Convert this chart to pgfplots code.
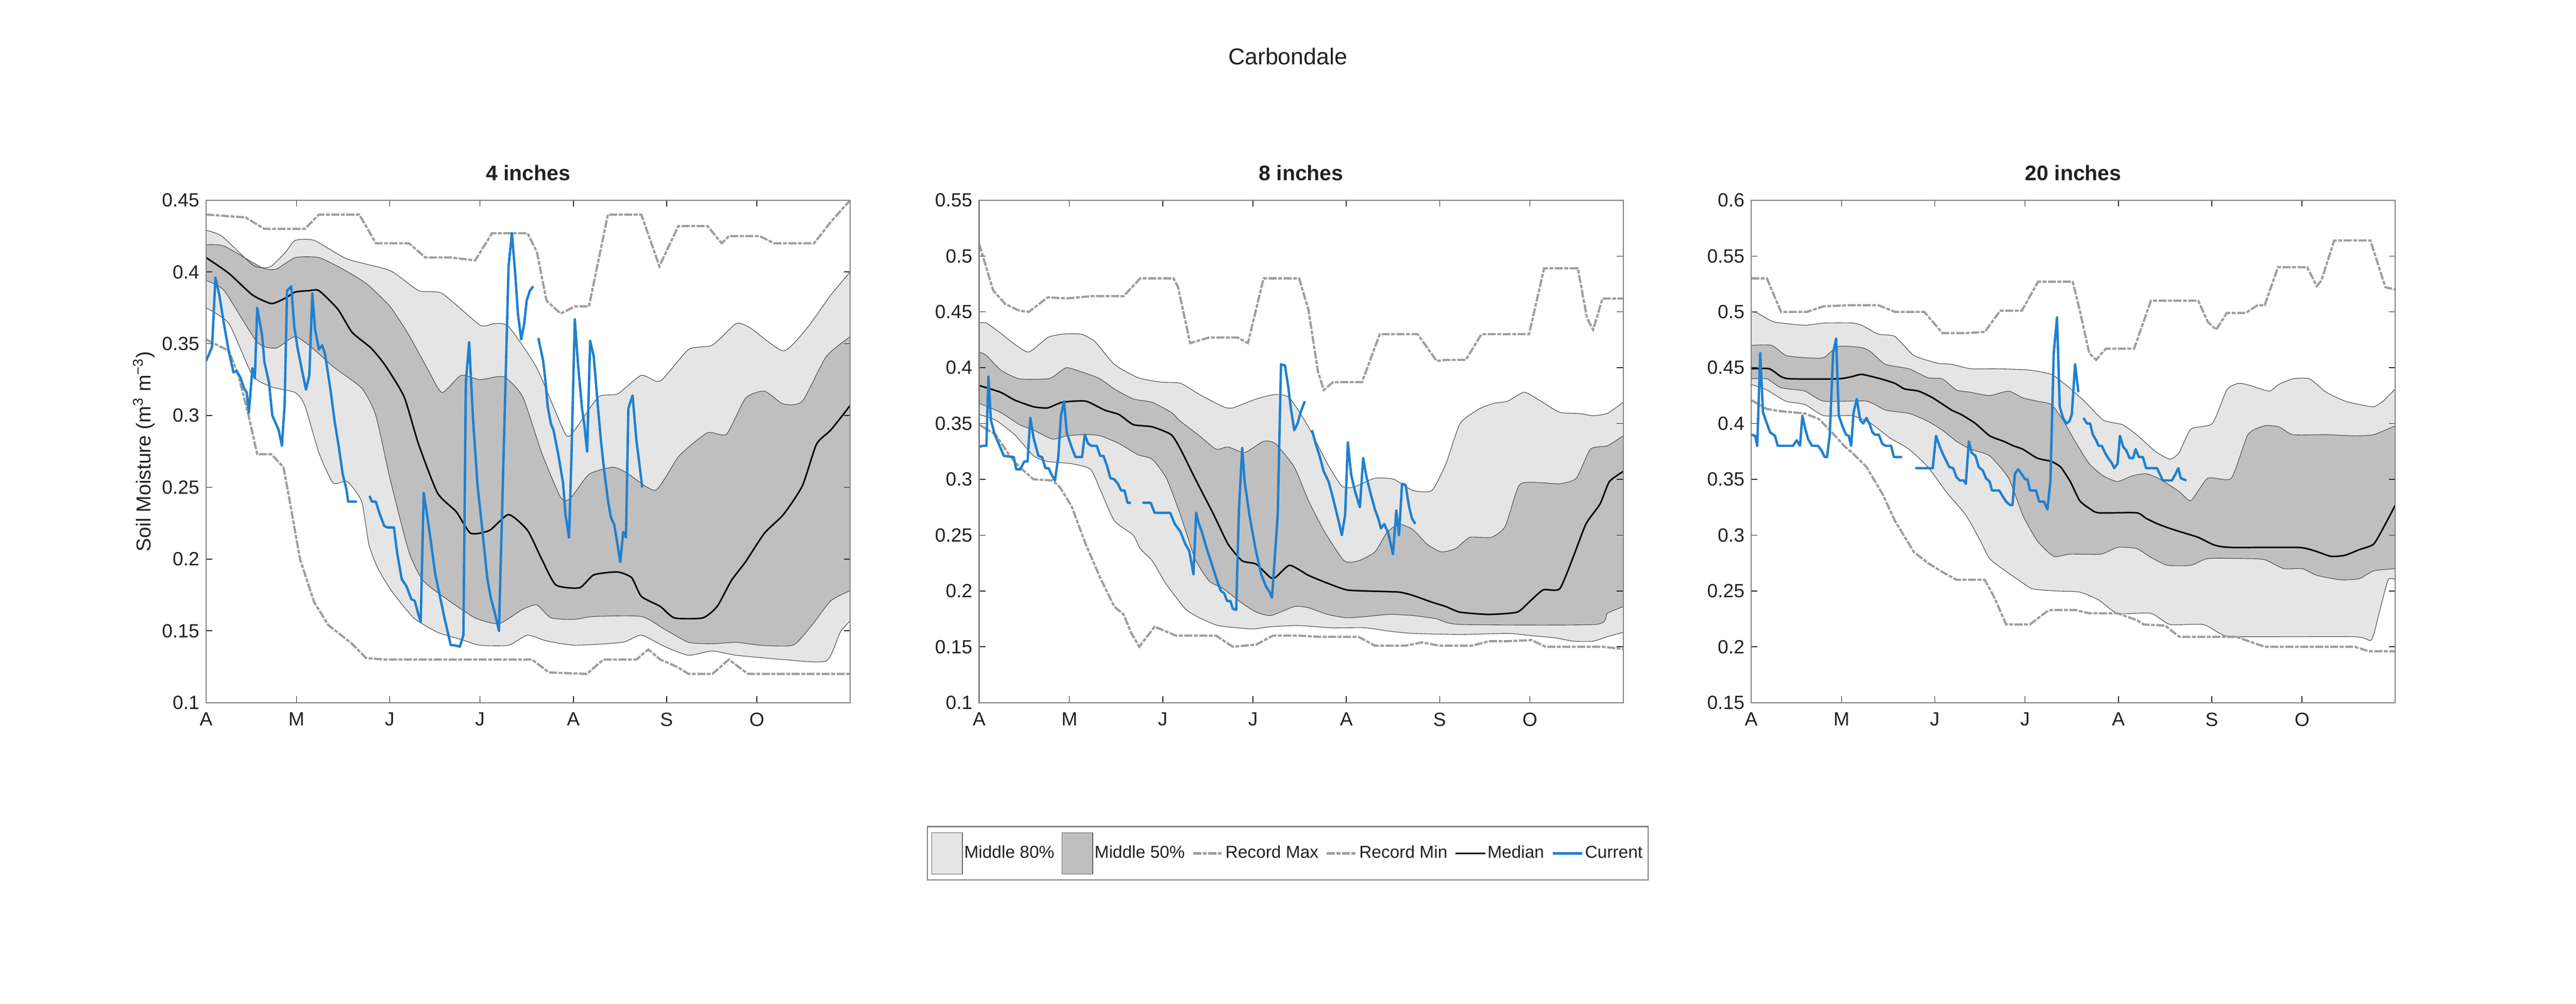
\documentclass[border=0pt]{standalone}
\usepackage{fontspec}
\setmainfont{Liberation Sans}
\usepackage{pgfplots}
\usepackage{pgfplotstable}
\pgfplotsset{compat=1.18}
\definecolor{band80}{gray}{0.9}
\definecolor{band50}{gray}{0.75}
\definecolor{recgray}{gray}{0.62}
\definecolor{curblue}{RGB}{31,128,208}
\definecolor{axgray}{gray}{0.5}
\pgfplotsset{
  panel/.style={
    width=336pt, height=262.25pt, scale only axis, anchor=south west,
    xmin=0, xmax=214, xtick={0,30,61,91,122,153,183},
    xticklabels={A,M,J,J,A,S,O},
    tick align=inside, major tick length=3.3pt,
    tick style={color=black!85, line width=0.4pt},
    axis line style={draw=axgray, line width=0.6pt},
    ticklabel style={font=\fontsize{10}{12}\selectfont, color=black!87},
    xticklabel style={yshift=-1.7pt},
    /pgf/number format/assume math mode=true,
    yticklabel style={/pgf/number format/fixed, /pgf/number format/precision=2},
    title style={at={(0.5,1)}, anchor=base, yshift=4.25pt, font=\bfseries\fontsize{11}{13}\selectfont, color=black!87},
    axis on top,
  },
  fillln/.style={draw=none, smooth, tension=0.35, forget plot},
  edgeln/.style={line width=0.3pt, color=black!72, smooth, tension=0.35, forget plot},
  recln/.style={line width=1.15pt, color=recgray, dash pattern=on 4.2pt off 0.8pt on 2pt off 0.8pt, forget plot},
  medln/.style={line width=0.8pt, color=black, smooth, tension=0.35, forget plot},
  curln/.style={line width=1.25pt, color=curblue, line join=round, forget plot},
}
% ---------- 4 inches ----------
\pgfplotstableread[row sep=\\]{x y\\ 0 0.429\\ 5.2 0.425\\ 15.4 0.405\\ 18.6 0.403\\ 21.7 0.404\\ 26.5 0.414\\ 29.6 0.422\\ 35.9 0.422\\ 46.9 0.409\\ 61.1 0.401\\ 70.6 0.387\\ 78.4 0.385\\ 91.0 0.363\\ 95.7 0.364\\ 100.5 0.362\\ 109.9 0.333\\ 119.4 0.287\\ 122.5 0.29\\ 130.4 0.313\\ 136.7 0.315\\ 144.6 0.328\\ 150.9 0.324\\ 160.3 0.346\\ 168.2 0.349\\ 176.1 0.364\\ 180.8 0.361\\ 191.8 0.345\\ 199.7 0.361\\ 207.6 0.384\\ 214 0.4\\}\AuE
\pgfplotstableread[row sep=\\]{x y\\ 0 0.375\\ 7.6 0.364\\ 15.4 0.328\\ 21.7 0.32\\ 29.6 0.316\\ 32.8 0.307\\ 37.5 0.274\\ 42.2 0.253\\ 46.9 0.254\\ 51.7 0.24\\ 54.1 0.21\\ 57.2 0.193\\ 61.9 0.177\\ 69.0 0.159\\ 76.9 0.149\\ 84.7 0.144\\ 91.0 0.14\\ 100.5 0.14\\ 106.8 0.147\\ 113.1 0.143\\ 122.5 0.14\\ 138.3 0.142\\ 144.6 0.147\\ 152.4 0.139\\ 160.3 0.133\\ 168.2 0.136\\ 176.1 0.133\\ 191.8 0.13\\ 206.0 0.129\\ 210.7 0.149\\ 214 0.157\\}\AlE
\pgfplotstableread[row sep=\\]{x y\\ 0 0.419\\ 6.0 0.418\\ 18.6 0.403\\ 23.3 0.402\\ 29.6 0.41\\ 37.5 0.41\\ 45.4 0.402\\ 53.2 0.392\\ 61.1 0.376\\ 67.4 0.356\\ 73.7 0.332\\ 78.4 0.316\\ 84.7 0.328\\ 91.0 0.325\\ 98.9 0.327\\ 105.2 0.313\\ 111.5 0.274\\ 117.8 0.243\\ 120.9 0.242\\ 127.2 0.259\\ 135.1 0.264\\ 139.8 0.26\\ 149.3 0.248\\ 157.2 0.272\\ 166.6 0.288\\ 172.9 0.287\\ 179.2 0.312\\ 185.5 0.317\\ 191.8 0.308\\ 198.1 0.31\\ 206.0 0.341\\ 214 0.355\\}\AuF
\pgfplotstableread[row sep=\\]{x y\\ 0 0.394\\ 6.0 0.387\\ 17.0 0.351\\ 23.3 0.347\\ 29.6 0.355\\ 35.9 0.346\\ 42.2 0.334\\ 51.7 0.319\\ 56.4 0.3\\ 61.1 0.256\\ 67.4 0.205\\ 72.1 0.185\\ 80.0 0.172\\ 89.4 0.159\\ 97.3 0.155\\ 105.2 0.165\\ 109.9 0.168\\ 114.6 0.159\\ 122.5 0.158\\ 128.8 0.16\\ 144.6 0.16\\ 152.4 0.151\\ 160.3 0.142\\ 168.2 0.141\\ 176.1 0.142\\ 183.9 0.14\\ 195.0 0.14\\ 201.3 0.154\\ 207.6 0.171\\ 214 0.178\\}\AlF
\pgfplotstableread[row sep=\\]{x y\\ 0 0.44\\ 13.1 0.438\\ 19.4 0.43\\ 32.8 0.43\\ 37.5 0.44\\ 50.9 0.44\\ 56.4 0.42\\ 67.4 0.42\\ 72.9 0.41\\ 81.6 0.41\\ 89.4 0.408\\ 95.0 0.427\\ 106.8 0.427\\ 109.9 0.414\\ 113.1 0.38\\ 117.8 0.371\\ 122.5 0.376\\ 127.2 0.376\\ 133.5 0.44\\ 144.6 0.44\\ 150.6 0.404\\ 156.9 0.432\\ 166.6 0.432\\ 171.3 0.42\\ 173.7 0.425\\ 183.9 0.425\\ 188.7 0.42\\ 202.0 0.42\\ 207.6 0.435\\ 214 0.45\\}\Amax
\pgfplotstableread[row sep=\\]{x y\\ 0 0.353\\ 7.6 0.345\\ 10.7 0.328\\ 13.9 0.302\\ 17.0 0.273\\ 21.7 0.273\\ 25.7 0.264\\ 28.0 0.238\\ 31.2 0.2\\ 35.9 0.17\\ 40.6 0.154\\ 48.5 0.141\\ 53.2 0.131\\ 59.5 0.13\\ 108.3 0.13\\ 113.9 0.121\\ 126.5 0.12\\ 132.0 0.13\\ 143.0 0.13\\ 146.9 0.137\\ 150.9 0.13\\ 156.4 0.125\\ 160.3 0.12\\ 168.2 0.12\\ 173.7 0.13\\ 180.0 0.12\\ 214 0.12\\}\Amin
\pgfplotstableread[row sep=\\]{x y\\ 0 0.41\\ 7.6 0.399\\ 15.4 0.384\\ 21.7 0.378\\ 26.5 0.382\\ 29.6 0.386\\ 34.3 0.387\\ 37.5 0.387\\ 43.8 0.374\\ 48.5 0.358\\ 54.8 0.347\\ 59.5 0.335\\ 65.8 0.313\\ 70.6 0.28\\ 76.9 0.246\\ 83.1 0.233\\ 87.9 0.218\\ 94.2 0.22\\ 100.5 0.231\\ 106.8 0.22\\ 111.5 0.2\\ 116.2 0.182\\ 124.1 0.18\\ 128.8 0.189\\ 136.7 0.191\\ 141.4 0.187\\ 144.6 0.174\\ 150.9 0.167\\ 155.6 0.159\\ 165.0 0.159\\ 169.8 0.167\\ 174.5 0.185\\ 179.2 0.198\\ 185.5 0.218\\ 191.8 0.231\\ 198.1 0.251\\ 202.8 0.28\\ 207.6 0.29\\ 214 0.307\\}\Amed
% ---------- 8 inches ----------
\pgfplotstableread[row sep=\\]{x y\\ 0 0.44\\ 2.4 0.44\\ 7.1 0.431\\ 11.8 0.421\\ 16.5 0.414\\ 22.8 0.427\\ 27.6 0.43\\ 33.9 0.43\\ 38.6 0.423\\ 44.9 0.403\\ 52.8 0.391\\ 60.6 0.387\\ 66.9 0.386\\ 73.2 0.376\\ 81.1 0.365\\ 84.3 0.364\\ 92.1 0.372\\ 98.4 0.376\\ 103.1 0.373\\ 109.4 0.347\\ 115.7 0.314\\ 120.5 0.294\\ 124.4 0.293\\ 131.5 0.301\\ 137.8 0.3\\ 144.1 0.29\\ 150.4 0.29\\ 155.1 0.314\\ 159.8 0.35\\ 166.1 0.363\\ 170.9 0.368\\ 175.6 0.37\\ 181.1 0.378\\ 186.6 0.37\\ 192.9 0.36\\ 199.2 0.359\\ 203.9 0.357\\ 208.7 0.359\\ 214 0.369\\}\BuE
\pgfplotstableread[row sep=\\]{x y\\ 0 0.358\\ 5.5 0.353\\ 11.8 0.34\\ 18.1 0.321\\ 22.8 0.316\\ 30.7 0.314\\ 37.0 0.309\\ 40.2 0.291\\ 44.9 0.263\\ 51.2 0.25\\ 53.5 0.238\\ 57.5 0.227\\ 62.2 0.206\\ 68.5 0.184\\ 73.2 0.176\\ 79.5 0.169\\ 90.6 0.166\\ 96.9 0.168\\ 106.3 0.169\\ 117.3 0.167\\ 128.3 0.167\\ 136.2 0.164\\ 144.1 0.162\\ 159.8 0.161\\ 175.6 0.162\\ 183.5 0.16\\ 191.3 0.158\\ 197.6 0.155\\ 203.9 0.155\\ 208.7 0.159\\ 214 0.163\\}\BlE
\pgfplotstableread[row sep=\\]{x y\\ 0 0.414\\ 2.4 0.411\\ 7.1 0.398\\ 13.4 0.39\\ 22.8 0.39\\ 25.2 0.393\\ 29.1 0.4\\ 35.4 0.395\\ 40.2 0.39\\ 44.9 0.381\\ 51.2 0.372\\ 57.5 0.369\\ 63.8 0.36\\ 66.9 0.352\\ 73.2 0.339\\ 78.7 0.327\\ 82.7 0.329\\ 88.2 0.324\\ 94.5 0.334\\ 98.4 0.332\\ 104.7 0.311\\ 109.4 0.281\\ 115.0 0.252\\ 121.3 0.227\\ 126.0 0.227\\ 131.5 0.235\\ 135.4 0.252\\ 139.4 0.26\\ 144.1 0.255\\ 148.8 0.242\\ 153.5 0.235\\ 158.3 0.238\\ 163.0 0.248\\ 170.1 0.248\\ 174.8 0.258\\ 179.5 0.295\\ 186.6 0.297\\ 192.9 0.296\\ 198.4 0.301\\ 203.1 0.327\\ 208.7 0.33\\ 214 0.339\\}\BuF
\pgfplotstableread[row sep=\\]{x y\\ 0 0.368\\ 7.1 0.36\\ 13.4 0.349\\ 18.1 0.344\\ 24.4 0.336\\ 29.1 0.339\\ 35.4 0.34\\ 40.2 0.339\\ 46.5 0.332\\ 52.8 0.322\\ 57.5 0.318\\ 62.2 0.301\\ 66.9 0.268\\ 71.7 0.229\\ 76.4 0.209\\ 81.1 0.202\\ 87.4 0.189\\ 92.1 0.181\\ 96.9 0.178\\ 104.7 0.186\\ 109.4 0.185\\ 115.7 0.179\\ 122.0 0.176\\ 128.3 0.177\\ 136.2 0.179\\ 144.1 0.178\\ 152.0 0.175\\ 159.8 0.17\\ 204.7 0.17\\ 208.7 0.18\\ 214 0.186\\}\BlF
\pgfplotstableread[row sep=\\]{x y\\ 0 0.511\\ 4.7 0.469\\ 8.7 0.457\\ 13.4 0.451\\ 16.5 0.45\\ 22.8 0.463\\ 29.1 0.462\\ 37.0 0.464\\ 48.0 0.464\\ 53.5 0.48\\ 64.6 0.48\\ 66.1 0.472\\ 70.1 0.422\\ 76.4 0.427\\ 85.8 0.427\\ 89.3 0.422\\ 94.5 0.48\\ 106.3 0.48\\ 109.4 0.452\\ 112.6 0.396\\ 114.5 0.38\\ 117.6 0.387\\ 127.2 0.387\\ 133.1 0.43\\ 145.7 0.43\\ 152.0 0.406\\ 155.1 0.407\\ 161.7 0.407\\ 166.9 0.43\\ 182.7 0.43\\ 187.7 0.489\\ 198.9 0.489\\ 202.0 0.444\\ 204.0 0.434\\ 207.1 0.462\\ 214 0.462\\}\Bmax
\pgfplotstableread[row sep=\\]{x y\\ 0 0.349\\ 5.5 0.34\\ 10.2 0.321\\ 13.4 0.311\\ 18.1 0.3\\ 24.4 0.299\\ 26.8 0.293\\ 30.7 0.276\\ 35.4 0.242\\ 40.2 0.212\\ 44.9 0.186\\ 48.0 0.179\\ 50.4 0.163\\ 53.2 0.15\\ 58.3 0.168\\ 65.4 0.16\\ 78.7 0.16\\ 84.3 0.15\\ 92.1 0.152\\ 97.6 0.16\\ 106.3 0.16\\ 112.6 0.159\\ 126.0 0.159\\ 131.5 0.151\\ 141.7 0.151\\ 147.2 0.154\\ 152.8 0.151\\ 163.8 0.151\\ 169.3 0.155\\ 175.6 0.155\\ 183.5 0.156\\ 188.2 0.15\\ 207.1 0.15\\ 214 0.148\\}\Bmin
\pgfplotstableread[row sep=\\]{x y\\ 0 0.384\\ 7.1 0.378\\ 11.8 0.371\\ 18.1 0.365\\ 22.8 0.364\\ 27.6 0.369\\ 35.4 0.37\\ 41.7 0.362\\ 46.5 0.358\\ 51.2 0.349\\ 57.5 0.347\\ 63.8 0.34\\ 66.9 0.327\\ 71.7 0.301\\ 78.0 0.268\\ 82.7 0.242\\ 87.4 0.227\\ 92.1 0.224\\ 97.6 0.211\\ 103.1 0.223\\ 109.4 0.214\\ 115.7 0.207\\ 122.0 0.201\\ 128.3 0.2\\ 139.4 0.199\\ 144.1 0.196\\ 150.4 0.19\\ 155.1 0.186\\ 159.8 0.181\\ 169.3 0.179\\ 178.7 0.181\\ 182.7 0.19\\ 187.4 0.201\\ 192.9 0.202\\ 197.6 0.232\\ 201.6 0.26\\ 206.3 0.278\\ 209.4 0.298\\ 214 0.307\\}\Bmed
% ---------- 20 inches ----------
\pgfplotstableread[row sep=\\]{x y\\ 0 0.5\\ 2.0 0.499\\ 7.6 0.491\\ 17.8 0.488\\ 24.1 0.49\\ 33.5 0.49\\ 36.7 0.488\\ 42.2 0.48\\ 47.7 0.478\\ 54.0 0.461\\ 61.9 0.454\\ 66.6 0.453\\ 72.9 0.449\\ 80.8 0.449\\ 91.8 0.448\\ 99.7 0.444\\ 105.2 0.433\\ 110.7 0.42\\ 117.0 0.403\\ 123.3 0.399\\ 128.0 0.39\\ 134.3 0.375\\ 139.1 0.368\\ 142.2 0.374\\ 146.1 0.395\\ 153.2 0.4\\ 158.0 0.43\\ 161.9 0.436\\ 165.8 0.434\\ 172.1 0.429\\ 175.3 0.435\\ 180.0 0.44\\ 185.5 0.44\\ 191.0 0.428\\ 197.3 0.42\\ 202.0 0.417\\ 206.8 0.415\\ 209.9 0.42\\ 214 0.431\\}\CuE
\pgfplotstableread[row sep=\\]{x y\\ 0 0.435\\ 5.2 0.43\\ 11.5 0.42\\ 17.8 0.417\\ 24.1 0.407\\ 33.5 0.407\\ 39.8 0.4\\ 46.1 0.387\\ 52.4 0.377\\ 58.7 0.361\\ 65.0 0.338\\ 71.3 0.318\\ 76.1 0.295\\ 79.2 0.279\\ 83.9 0.269\\ 88.7 0.26\\ 93.4 0.252\\ 101.3 0.25\\ 109.1 0.249\\ 115.4 0.242\\ 121.7 0.23\\ 132.8 0.23\\ 139.1 0.22\\ 150.1 0.22\\ 156.4 0.211\\ 161.1 0.209\\ 200.5 0.209\\ 206.0 0.206\\ 208.5 0.229\\ 211.6 0.26\\ 214 0.26\\}\ClE
\pgfplotstableread[row sep=\\]{x y\\ 0 0.47\\ 6.8 0.47\\ 11.5 0.461\\ 17.8 0.459\\ 24.1 0.459\\ 28.8 0.469\\ 36.7 0.468\\ 39.8 0.464\\ 44.6 0.453\\ 52.4 0.449\\ 58.7 0.441\\ 63.5 0.44\\ 68.2 0.43\\ 72.9 0.428\\ 79.2 0.425\\ 85.5 0.429\\ 90.2 0.423\\ 95.0 0.42\\ 99.7 0.417\\ 103.6 0.403\\ 107.6 0.384\\ 112.3 0.364\\ 117.0 0.353\\ 121.7 0.348\\ 126.5 0.353\\ 131.2 0.355\\ 135.9 0.35\\ 142.2 0.339\\ 146.1 0.331\\ 151.7 0.351\\ 159.5 0.351\\ 165.0 0.39\\ 170.6 0.398\\ 175.3 0.397\\ 180.0 0.39\\ 191.0 0.39\\ 200.5 0.389\\ 206.8 0.39\\ 214 0.398\\}\CuF
\pgfplotstableread[row sep=\\]{x y\\ 0 0.44\\ 5.2 0.44\\ 9.9 0.432\\ 17.8 0.429\\ 24.1 0.42\\ 38.3 0.42\\ 44.6 0.412\\ 52.4 0.409\\ 58.7 0.402\\ 63.5 0.394\\ 68.2 0.384\\ 72.9 0.377\\ 79.2 0.371\\ 85.5 0.351\\ 90.2 0.318\\ 95.0 0.295\\ 100.5 0.281\\ 106.0 0.283\\ 116.2 0.283\\ 121.7 0.289\\ 128.0 0.288\\ 132.8 0.28\\ 138.3 0.273\\ 146.1 0.273\\ 151.7 0.279\\ 164.3 0.279\\ 170.6 0.278\\ 176.9 0.27\\ 183.1 0.27\\ 187.9 0.264\\ 195.7 0.26\\ 202.0 0.261\\ 206.8 0.268\\ 214 0.27\\}\ClF
\pgfplotstableread[row sep=\\]{x y\\ 0 0.53\\ 5.2 0.53\\ 9.9 0.5\\ 18.6 0.5\\ 24.1 0.505\\ 33.5 0.506\\ 42.2 0.506\\ 47.7 0.5\\ 57.5 0.5\\ 63.5 0.481\\ 71.3 0.481\\ 77.6 0.482\\ 82.7 0.501\\ 89.9 0.501\\ 95.3 0.527\\ 106.8 0.527\\ 109.1 0.502\\ 112.3 0.463\\ 114.6 0.457\\ 117.8 0.467\\ 127.2 0.467\\ 132.8 0.51\\ 148.5 0.51\\ 151.7 0.491\\ 154.5 0.484\\ 158.0 0.499\\ 164.3 0.499\\ 168.2 0.506\\ 170.6 0.506\\ 175.0 0.54\\ 184.7 0.54\\ 187.9 0.523\\ 189.4 0.528\\ 193.7 0.564\\ 205.7 0.564\\ 210.7 0.522\\ 214 0.52\\}\Cmax
\pgfplotstableread[row sep=\\]{x y\\ 0 0.421\\ 5.2 0.413\\ 9.9 0.411\\ 17.8 0.409\\ 22.5 0.404\\ 27.2 0.391\\ 31.2 0.379\\ 33.5 0.374\\ 38.3 0.361\\ 43.8 0.336\\ 47.7 0.313\\ 54.0 0.285\\ 58.7 0.275\\ 63.5 0.267\\ 68.2 0.26\\ 77.6 0.26\\ 80.8 0.244\\ 84.7 0.22\\ 92.6 0.22\\ 98.9 0.233\\ 107.6 0.233\\ 112.3 0.23\\ 121.7 0.23\\ 128.0 0.224\\ 130.4 0.22\\ 137.5 0.219\\ 142.2 0.209\\ 161.1 0.209\\ 170.6 0.2\\ 200.5 0.2\\ 205.2 0.196\\ 214 0.196\\}\Cmin
\pgfplotstableread[row sep=\\]{x y\\ 0 0.449\\ 6.0 0.449\\ 9.9 0.442\\ 13.1 0.44\\ 28.8 0.44\\ 33.5 0.442\\ 36.7 0.444\\ 43.0 0.44\\ 47.7 0.436\\ 50.9 0.431\\ 55.6 0.429\\ 60.3 0.423\\ 66.6 0.412\\ 69.8 0.408\\ 74.5 0.4\\ 79.2 0.389\\ 83.9 0.384\\ 87.1 0.38\\ 90.2 0.377\\ 95.0 0.369\\ 99.7 0.366\\ 102.8 0.361\\ 106.0 0.348\\ 109.1 0.331\\ 112.3 0.324\\ 115.4 0.32\\ 128.0 0.32\\ 131.2 0.315\\ 135.1 0.31\\ 139.1 0.306\\ 143.8 0.302\\ 148.5 0.298\\ 154.0 0.291\\ 159.5 0.289\\ 181.6 0.289\\ 187.1 0.286\\ 192.6 0.281\\ 197.3 0.282\\ 202.0 0.287\\ 206.8 0.292\\ 210.7 0.31\\ 214 0.327\\}\Cmed
\begin{document}
\begin{tikzpicture}
\path[use as bounding box] (0pt,0pt) rectangle (1343.75pt,524pt);
\node[font=\fontsize{12}{14}\selectfont, color=black!87, anchor=base] at (671.75pt,490.25pt) {Carbondale};

% ---------------- 4 inches ----------------
\begin{axis}[panel, at={(107.5pt,157.25pt)}, ymin=0.1, ymax=0.45,
  ytick={0.1,0.15,...,0.451}, title={4 inches},
  ylabel={Soil Moisture (m\textsuperscript{3} m\textsuperscript{\char"2212 3})},
  ylabel style={at={(axis description cs:-0.0967,0.5)}, anchor=center, font=\fontsize{10.5}{12}\selectfont, color=black!87}]
\addplot[fillln, fill=band80] table {\AuE} \closedcycle;
\addplot[fillln, fill=band50] table {\AuF} \closedcycle;
\addplot[fillln, fill=band80] table {\AlF} \closedcycle;
\addplot[fillln, fill=white] table {\AlE} \closedcycle;
\addplot[edgeln] table {\AuE};
\addplot[edgeln] table {\AuF};
\addplot[edgeln] table {\AlF};
\addplot[edgeln] table {\AlE};
\addplot[recln] table {\Amax};
\addplot[recln] table {\Amin};
\addplot[medln] table {\Amed};
\addplot[curln] coordinates {(0,0.338) (2.0,0.348) (3.1,0.396) (4.4,0.384) (6.0,0.363) (7.6,0.344) (9.1,0.33) (10.2,0.331) (11.5,0.326) (12.6,0.319) (13.5,0.316) (14.2,0.302) (15.4,0.333) (16.2,0.326) (17.0,0.375) (18.6,0.356) (19.4,0.337) (20.9,0.323) (22.0,0.3) (24.1,0.29) (25.2,0.279) (26.1,0.308) (26.9,0.387) (28.3,0.39) (29.3,0.362) (30.4,0.347) (32.0,0.33) (33.2,0.318) (34.3,0.328) (35.3,0.385) (36.2,0.36) (37.5,0.346) (38.6,0.349) (39.5,0.343) (41.4,0.317) (42.7,0.296) (44.1,0.278) (45.4,0.259) (46.6,0.249) (47.2,0.24) (50.1,0.24)};
\addplot[curln] coordinates {(54.3,0.244) (55.1,0.24) (56.4,0.24) (57.6,0.232) (59.2,0.223) (60.3,0.222) (62.4,0.222) (63.5,0.204) (65.0,0.186) (66.6,0.181) (68.2,0.172) (69.3,0.171) (70.2,0.164) (71.3,0.156) (72.3,0.246) (73.4,0.231) (74.5,0.215) (76.1,0.19) (77.6,0.175) (79.2,0.159) (80.3,0.149) (81.3,0.14) (82.4,0.14) (84.3,0.139) (85.5,0.147) (86.3,0.323) (87.4,0.351) (88.7,0.297) (90.2,0.251) (91.8,0.22) (93.4,0.187) (94.6,0.173) (96.1,0.161) (97.3,0.15) (100.5,0.404) (101.6,0.427) (102.7,0.399) (103.6,0.371) (104.7,0.353) (105.7,0.364) (106.5,0.38) (107.6,0.387) (108.7,0.39)};
\addplot[curln] coordinates {(110.4,0.354) (112.0,0.338) (112.8,0.323) (113.5,0.306) (114.6,0.294) (115.4,0.29) (117.0,0.273) (118.6,0.253) (119.4,0.231) (120.6,0.215) (121.4,0.272) (122.5,0.367) (123.6,0.335) (124.9,0.305) (125.7,0.293) (126.6,0.275) (127.6,0.352) (128.8,0.341) (130.1,0.308) (131.2,0.282) (132.3,0.261) (133.5,0.241) (134.5,0.229) (135.6,0.224) (136.7,0.21) (137.6,0.198) (138.6,0.219) (139.5,0.215) (140.3,0.305) (141.7,0.314) (143.0,0.282) (144.1,0.264) (144.9,0.25)};
\end{axis}

% ---------------- 8 inches ----------------
\begin{axis}[panel, at={(510.75pt,157.25pt)}, ymin=0.1, ymax=0.55,
  ytick={0.1,0.15,...,0.551}, title={8 inches},
  legend columns=6,
  legend style={at={(0.479,-0.30)}, anchor=center, draw=axgray, line width=0.6pt,
    font=\fontsize{9}{11}\selectfont, text=black!87,
    inner xsep=2pt, inner ysep=3pt,
    nodes={inner sep=0.8pt},
    /tikz/every even column/.append style={column sep=3pt}}]
\addplot[fillln, fill=band80] table {\BuE} \closedcycle;
\addplot[fillln, fill=band50] table {\BuF} \closedcycle;
\addplot[fillln, fill=band80] table {\BlF} \closedcycle;
\addplot[fillln, fill=white] table {\BlE} \closedcycle;
\addplot[edgeln] table {\BuE};
\addplot[edgeln] table {\BuF};
\addplot[edgeln] table {\BlF};
\addplot[edgeln] table {\BlE};
\addplot[recln] table {\Bmax};
\addplot[recln] table {\Bmin};
\addplot[medln] table {\Bmed};
\addplot[curln] coordinates {(0,0.329) (1.1,0.33) (2.4,0.33) (3.1,0.392) (3.9,0.353) (5.2,0.34) (6.8,0.33) (8.2,0.321) (11.5,0.32) (12.3,0.309) (13.7,0.309) (15.0,0.316) (16.1,0.316) (17.0,0.355) (18.1,0.337) (19.7,0.321) (20.9,0.32) (22.0,0.31) (23.1,0.31) (24.1,0.304) (25.2,0.299) (26.3,0.32) (27.2,0.357) (28.2,0.37) (29.1,0.342) (30.7,0.329) (32.0,0.32) (34.2,0.32) (35.1,0.34) (36.2,0.332) (37.3,0.33) (39.1,0.33) (40.2,0.321) (41.3,0.321) (42.5,0.312) (43.6,0.301) (44.9,0.3) (46.1,0.296) (47.2,0.29) (48.3,0.29) (49.3,0.279) (50.4,0.279)};
\addplot[curln] coordinates {(54.3,0.279) (57.0,0.279) (58.3,0.27) (63.5,0.27) (65.0,0.26) (66.9,0.253) (68.5,0.242) (69.8,0.236) (71.2,0.215) (72.1,0.27) (72.9,0.261) (74.0,0.253) (75.6,0.238) (77.2,0.225) (78.7,0.212) (80.3,0.2) (81.4,0.198) (82.4,0.191) (83.5,0.191) (84.3,0.184) (85.4,0.183) (86.3,0.271) (87.4,0.328) (88.2,0.298) (89.8,0.268) (91.8,0.238) (93.7,0.215) (95.3,0.204) (96.5,0.199) (97.3,0.194) (99.2,0.268) (100.3,0.403) (101.6,0.402) (102.7,0.383) (103.6,0.363) (104.7,0.344) (105.8,0.35) (106.8,0.36) (108.2,0.37)};
\addplot[curln] coordinates {(110.6,0.344) (111.8,0.332) (113.1,0.321) (114.5,0.307) (116.1,0.298) (117.3,0.286) (118.4,0.274) (119.4,0.263) (120.5,0.25) (121.6,0.268) (122.5,0.333) (123.6,0.304) (124.9,0.289) (126.5,0.275) (127.6,0.319) (128.7,0.302) (129.9,0.289) (131.5,0.273) (132.6,0.265) (133.5,0.256) (134.6,0.26) (135.9,0.252) (137.5,0.233) (138.6,0.272) (139.5,0.25) (140.5,0.296) (141.7,0.295) (142.8,0.276) (143.8,0.265) (144.9,0.26)};
\addlegendimage{legend image code/.code={\draw[fill=band80, draw=black!60, line width=0.4pt] (0pt,-10.75pt) rectangle (16pt,10.75pt);}}
\addlegendentry{Middle 80\%}
\addlegendimage{legend image code/.code={\draw[fill=band50, draw=black!60, line width=0.4pt] (0pt,-10.75pt) rectangle (16pt,10.75pt);}}
\addlegendentry{Middle 50\%}
\addlegendimage{legend image code/.code={\draw[line width=1.15pt, color=recgray, dash pattern=on 4.2pt off 0.8pt on 2pt off 0.8pt] (0pt,0pt) -- (15.5pt,0pt);}}
\addlegendentry{Record Max}
\addlegendimage{legend image code/.code={\draw[line width=1.15pt, color=recgray, dash pattern=on 4.2pt off 0.8pt on 2pt off 0.8pt] (0pt,0pt) -- (15.5pt,0pt);}}
\addlegendentry{Record Min}
\addlegendimage{legend image code/.code={\draw[line width=0.8pt, color=black] (0pt,0pt) -- (15.5pt,0pt);}}
\addlegendentry{Median}
\addlegendimage{legend image code/.code={\draw[line width=1.25pt, color=curblue] (0pt,0pt) -- (15.5pt,0pt);}}
\addlegendentry{Current}
\end{axis}

% ---------------- 20 inches ----------------
\begin{axis}[panel, at={(913.5pt,157.25pt)}, ymin=0.15, ymax=0.6,
  ytick={0.15,0.2,...,0.601}, title={20 inches}]
\addplot[fillln, fill=band80] table {\CuE} \closedcycle;
\addplot[fillln, fill=band50] table {\CuF} \closedcycle;
\addplot[fillln, fill=band80] table {\ClF} \closedcycle;
\addplot[fillln, fill=white] table {\ClE} \closedcycle;
\addplot[edgeln] table {\CuE};
\addplot[edgeln] table {\CuF};
\addplot[edgeln] table {\ClF};
\addplot[edgeln] table {\ClE};
\addplot[recln] table {\Cmax};
\addplot[recln] table {\Cmin};
\addplot[medln] table {\Cmed};
\addplot[curln] coordinates {(0,0.39) (1.3,0.389) (2.0,0.38) (3.0,0.463) (3.9,0.41) (5.2,0.4) (6.3,0.392) (7.9,0.389) (8.8,0.38) (13.9,0.38) (15.1,0.385) (16.2,0.38) (17.0,0.407) (17.8,0.397) (18.9,0.386) (20.2,0.38) (22.2,0.38) (23.3,0.376) (24.4,0.37) (25.2,0.37) (26.1,0.39) (27.2,0.463) (28.2,0.476) (29.1,0.407) (30.4,0.397) (31.5,0.39) (32.4,0.389) (33.2,0.38) (34.0,0.41) (35.1,0.422) (36.2,0.403) (37.2,0.4) (38.3,0.405) (39.4,0.399) (40.3,0.392) (41.1,0.39) (42.4,0.39) (43.5,0.382) (44.6,0.38) (46.5,0.38) (47.4,0.37) (50.1,0.37)};
\addplot[curln] coordinates {(54.5,0.36) (60.3,0.36) (61.4,0.389) (62.7,0.379) (63.8,0.372) (64.7,0.367) (65.8,0.361) (67.1,0.36) (68.2,0.352) (69.3,0.349) (70.6,0.349) (71.3,0.346) (72.3,0.384) (73.2,0.374) (74.5,0.371) (75.6,0.361) (76.9,0.358) (78.0,0.351) (79.2,0.348) (80.0,0.34) (82.4,0.34) (83.5,0.335) (84.7,0.33) (86.0,0.327) (86.8,0.327) (87.6,0.355) (88.7,0.359) (89.8,0.355) (91.0,0.35) (91.8,0.35) (92.6,0.34) (94.6,0.34) (95.7,0.33) (97.3,0.33) (98.4,0.323) (99.4,0.348) (100.5,0.463) (101.6,0.495) (102.5,0.415) (103.6,0.405) (104.7,0.4) (105.7,0.402) (106.5,0.408) (107.6,0.453) (108.7,0.428)};
\addplot[curln] coordinates {(110.4,0.405) (111.5,0.4) (112.6,0.4) (113.5,0.39) (114.6,0.385) (115.4,0.38) (116.5,0.38) (117.5,0.374) (118.6,0.369) (119.7,0.365) (120.6,0.36) (121.7,0.364) (122.5,0.389) (123.6,0.379) (124.6,0.376) (125.7,0.369) (126.9,0.369) (127.7,0.377) (128.8,0.37) (130.1,0.37) (131.2,0.36) (134.8,0.36) (135.9,0.354) (136.7,0.349) (139.8,0.349) (141.0,0.355) (141.9,0.36) (142.7,0.351) (144.6,0.349)};
\end{axis}
\end{tikzpicture}
\end{document}
